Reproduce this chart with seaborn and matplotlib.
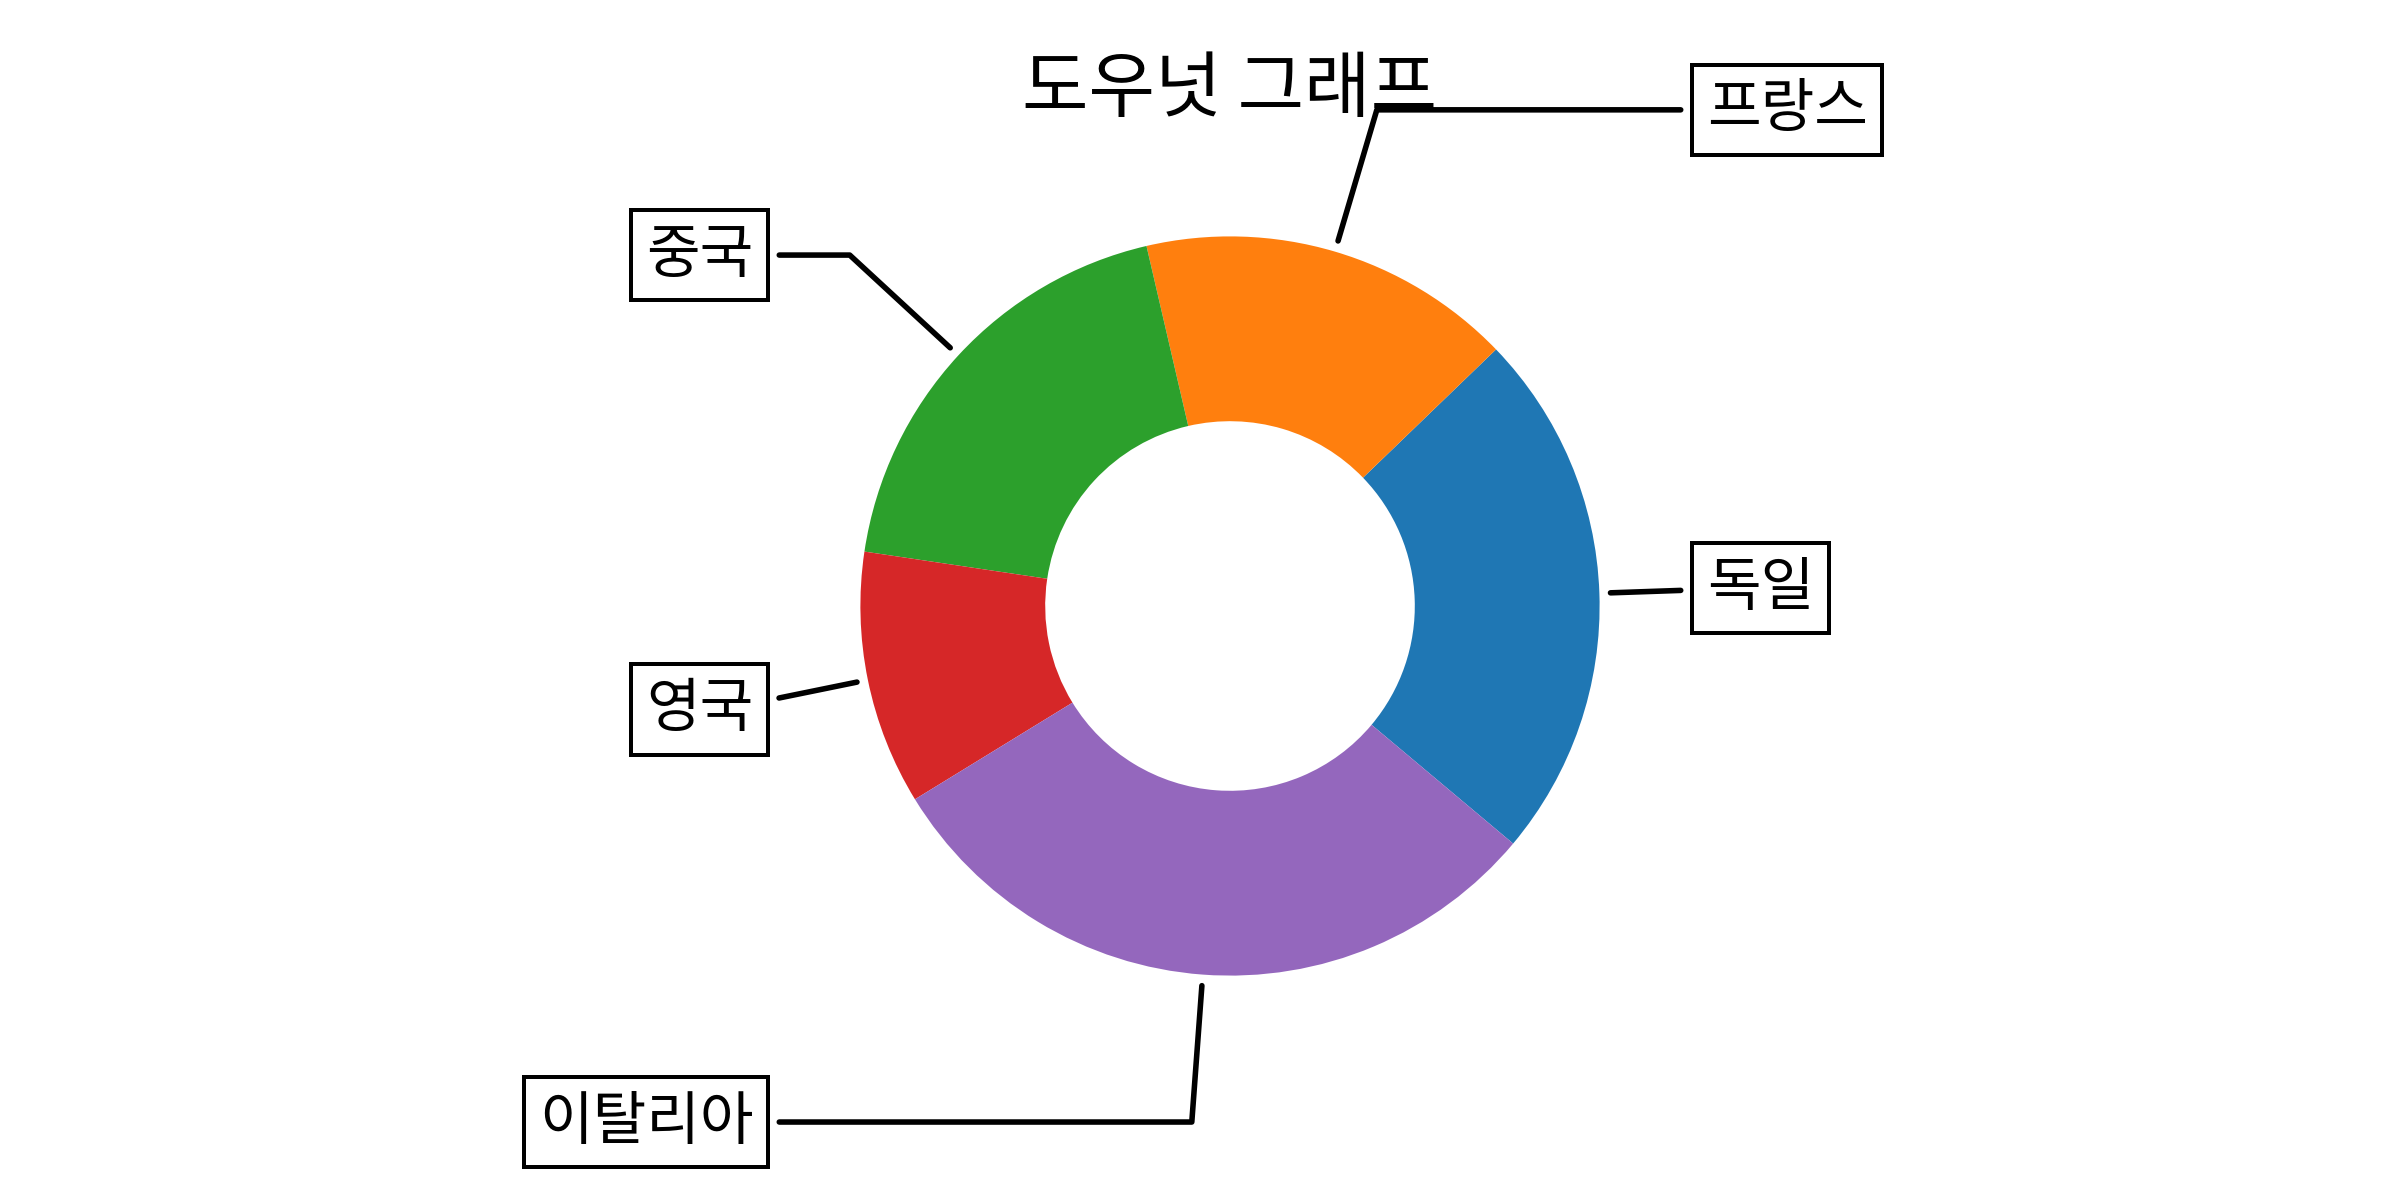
import numpy as np
import seaborn as sns
import matplotlib.pyplot as plt

plt.rcParams['font.family'] = ['Noto Sans CJK KR', 'DejaVu Sans']

countries = ['독일', '프랑스', '중국', '영국', '이탈리아']
values = [23.3, 16.4, 19.0, 11.1, 30.1]
colors = sns.color_palette('tab10', len(countries))

fig, ax = plt.subplots(figsize=(6, 3), dpi=400, subplot_kw=dict(aspect='equal'))

wedges, texts = ax.pie(values, wedgeprops=dict(width=0.5), startangle=-40, colors=colors)

bbox_props = dict(boxstyle='square,pad=0.25', fc='w', ec='k', lw=0.72)
kw = dict(arrowprops=dict(arrowstyle='-', color='k'), bbox=bbox_props, zorder=0,
          va='center', color='k', fontsize=10.5)

for i, p in enumerate(wedges):
    ang = (p.theta2 - p.theta1) / 2. + p.theta1
    y = np.sin(np.deg2rad(ang))
    x = np.cos(np.deg2rad(ang))
    ha = {-1: 'right', 1: 'left'}[int(np.sign(x))]
    conn = f'angle,angleA=0,angleB={ang}'
    kw['arrowprops'].update({'connectionstyle': conn})
    ax.annotate(countries[i], xy=(x, y), xytext=(1.29 * np.sign(x), 1.4 * y),
                ha=ha, **kw)

ax.set_title('도우넛 그래프', color='k', fontsize=13)
plt.savefig('out.png')
